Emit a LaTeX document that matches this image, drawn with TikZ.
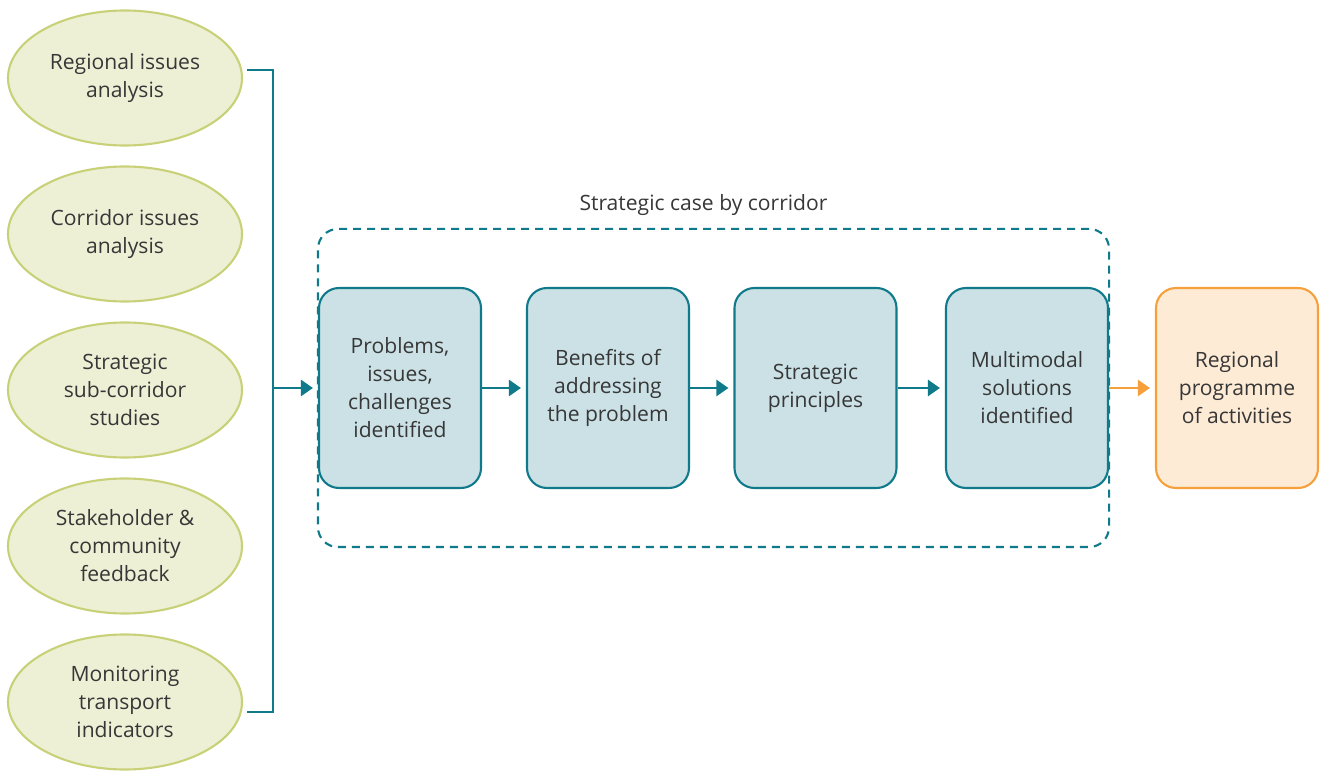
\documentclass[tikz,border=0pt]{standalone}
\usepackage{fontspec}
\setmainfont{Open Sans}
\usepackage{tikz}
\usetikzlibrary{shapes.geometric, arrows.meta, positioning, fit}
\definecolor{lineTeal}{RGB}{16,122,138}
\definecolor{stageFill}{RGB}{203,225,230}
\definecolor{srcFill}{RGB}{238,240,214}
\definecolor{srcBorder}{RGB}{200,209,120}
\definecolor{progOrange}{RGB}{245,160,58}
\definecolor{progFill}{RGB}{253,235,214}
\definecolor{txtGrey}{RGB}{55,55,55}
\tikzstyle{source} = [ellipse, minimum width=4.68cm, minimum height=2.7cm, inner sep=0pt, align=center, draw=srcBorder, fill=srcFill, line width=1.2pt]
\tikzstyle{stage} = [rectangle, rounded corners=0.4cm, minimum width=3.24cm, minimum height=4cm, align=center, draw=lineTeal, fill=stageFill, line width=1.2pt]
\tikzstyle{outcome} = [stage, draw=progOrange, fill=progFill]
\tikzstyle{link} = [line width=1.4pt, draw=lineTeal]
\tikzstyle{arrow} = [link, -{Triangle[length=0.24cm, width=0.32cm]}, shorten >=0.1cm]
\tikzstyle{orangearrow} = [arrow, draw=progOrange, fill=progOrange]

\begin{document}
\begin{tikzpicture}[node distance=3.12cm, on grid, text=txtGrey, font=\fontsize{12}{15.9}\selectfont]
    \useasboundingbox (0,0) rectangle (26.46,-15.48);
    % inputs
    \node (RegIssues) [source] at (2.5,-1.56) {Regional issues\\analysis};
    \node (CorIssues) [source, below=of RegIssues] {Corridor issues\\analysis};
    \node (SubCorridor) [source, below=of CorIssues] {Strategic\\sub-corridor\\studies};
    \node (Feedback) [source, below=of SubCorridor] {Stakeholder \&\\community\\feedback};
    \node (Monitoring) [source, below=of Feedback] {Monitoring\\transport\\indicators};
    % strategic case stages
    \node (Problems) [stage] at (8.0,-7.76) {Problems,\\issues,\\challenges\\identified};
    \node (Benefits) [stage, right=4.16cm of Problems] {Benefits of\\addressing\\the problem};
    \node (Principles) [stage, right=4.15cm of Benefits] {Strategic\\principles};
    \node (Solutions) [stage, right=4.23cm of Principles] {Multimodal\\solutions\\identified};
    \node (Programme) [outcome, right=4.2cm of Solutions] {Regional\\programme\\of activities};
    \node (Frame) [fit=(Problems)(Solutions), inner xsep=0pt, inner ysep=1.16cm, rounded corners=0.4cm, draw=lineTeal, line width=1.2pt, dash pattern=on 0.16cm off 0.12cm] {};
    \node (FrameLabel) [above=0.23cm of Frame.north, on grid=false, anchor=south, inner sep=0pt, xshift=-0.2cm] {Strategic case by corridor};
    % bracket
    \coordinate (Join) at (5.46,-7.76);
    \draw [link] ([xshift=0.08cm, yshift=0.16cm]RegIssues.east) -| (Join) |- ([xshift=0.08cm, yshift=-0.2cm]Monitoring.east);
    \draw [arrow] (Join) -- (Problems);
    \draw [arrow] (Problems) -- (Benefits);
    \draw [arrow] (Benefits) -- (Principles);
    \draw [arrow] (Principles) -- (Solutions);
    \draw [orangearrow] (Solutions) -- (Programme);
\end{tikzpicture}
\end{document}
